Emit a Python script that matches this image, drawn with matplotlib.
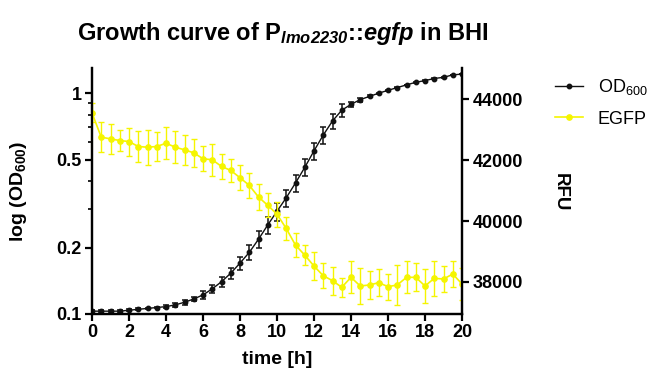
import matplotlib
matplotlib.use("Agg")
import matplotlib.pyplot as plt
import numpy as np
from matplotlib.lines import Line2D
from matplotlib.ticker import LogLocator, FixedLocator, NullFormatter

plt.rcParams["font.family"] = ["Liberation Sans", "DejaVu Sans"]
plt.rcParams["mathtext.fontset"] = "custom"
plt.rcParams["mathtext.rm"] = "Liberation Sans"
plt.rcParams["mathtext.it"] = "Liberation Sans:italic:bold"
plt.rcParams["mathtext.sf"] = "Liberation Sans:italic:bold"
plt.rcParams["mathtext.bf"] = "Liberation Sans:bold"

time_h = np.arange(0, 20.5, 0.5)

od600 = [0.103, 0.103, 0.103, 0.103, 0.104, 0.105, 0.106, 0.107, 0.108, 0.110,
         0.113, 0.117, 0.122, 0.130, 0.140, 0.153, 0.170, 0.190, 0.218, 0.253,
         0.292, 0.336, 0.392, 0.461, 0.548, 0.646, 0.748, 0.837, 0.890, 0.935,
         0.967, 1.000, 1.030, 1.060, 1.090, 1.120, 1.140, 1.165, 1.180, 1.210,
         1.220]
od600_sd = [0.001, 0.001, 0.001, 0.001, 0.001, 0.001, 0.001, 0.001, 0.002, 0.002,
            0.003, 0.003, 0.005, 0.006, 0.007, 0.009, 0.012, 0.015, 0.020, 0.023,
            0.027, 0.030, 0.035, 0.040, 0.048, 0.055, 0.060, 0.060, 0.025, 0.020,
            0.010, 0.005, 0.005, 0.004, 0.004, 0.004, 0.004, 0.004, 0.004, 0.004,
            0.004]

egfp = [43546, 42750, 42696, 42640, 42608, 42444, 42422, 42444, 42552, 42422,
        42336, 42238, 42042, 42010, 41791, 41660, 41421, 41170, 40788, 40516,
        40222, 39755, 39209, 38882, 38523, 38206, 38043, 37826, 38153, 37869,
        37902, 37978, 37847, 37902, 38153, 38153, 37869, 38120, 38098, 38261,
        37935]
egfp_sd = [310, 490, 490, 330, 460, 520, 570, 490, 520, 520,
           490, 460, 410, 520, 410, 390, 410, 410, 440, 390,
           410, 390, 390, 330, 460, 410, 460, 310, 520, 600,
           470, 450, 425, 670, 520, 460, 555, 570, 440, 430,
           520]

x_ticks = [0, 2, 4, 6, 8, 10, 12, 14, 16, 18, 20]
od_ticks = [0.1, 0.2, 0.5, 1]
od_tick_labels = ["0.1", "0.2", "0.5", "1"]
rfu_ticks = [38000, 40000, 42000, 44000]

black = "#111111"
yellow = "#f5f500"

fig = plt.figure(figsize=(6.52, 3.68), dpi=100)
ax = fig.add_axes([92 / 652, 1 - 314 / 368, 370 / 652, 246 / 368])
ax2 = ax.twinx()

ax.errorbar(time_h, od600, yerr=od600_sd, color=black, marker="o", ms=3.2,
            lw=1.0, elinewidth=1.1, capsize=2.2, capthick=1.1)
ax2.errorbar(time_h, egfp, yerr=egfp_sd, color=yellow, marker="o", ms=3.8,
             lw=1.2, elinewidth=1.0, capsize=2.2, capthick=1.0)

ax.set_yscale("log")
ax.set_xlim(0, 20)
ax.set_ylim(0.1, 1.3)
ax2.set_ylim(36950, 45020)

ax.xaxis.set_major_locator(FixedLocator(x_ticks))
ax.set_yticks(od_ticks)
ax.set_yticklabels(od_tick_labels)
ax.yaxis.set_minor_locator(LogLocator(base=10, subs=np.arange(2, 10) * 1.0))
ax.yaxis.set_minor_formatter(NullFormatter())
ax2.set_yticks(rfu_ticks)

for a in (ax, ax2):
    a.spines["top"].set_visible(False)
    for s in a.spines.values():
        s.set_linewidth(1.6)
    a.tick_params(which="major", direction="out", length=5, width=1.6,
                  labelsize=13, pad=2.5)
    a.tick_params(which="minor", direction="out", length=3, width=1.2)
    for lab in a.get_xticklabels() + a.get_yticklabels():
        lab.set_fontweight("bold")

fig.text(277 / 652, 1 - 360 / 368, "time [h]", ha="center", va="center",
         fontsize=14, fontweight="bold")
fig.text(19 / 652, 1 - 191 / 368, r"log (OD$_{\mathbf{600}}$)", ha="center",
         va="center", rotation=90, fontsize=14, fontweight="bold")
fig.text(560 / 652, 1 - 192 / 368, "RFU", ha="center", va="center",
         rotation=270, fontsize=13.5, fontweight="bold")

fig.text(283 / 652, 1 - 40 / 368,
         r"Growth curve of P$_{\mathsf{lmo2230}}$::$\mathit{egfp}$ in BHI",
         ha="center", va="baseline", fontsize=17, fontweight="bold")

handles = [
    Line2D([], [], color=black, marker="o", ms=3.2, lw=1.0),
    Line2D([], [], color=yellow, marker="o", ms=3.8, lw=1.2),
]
fig.legend(handles, [r"OD$_{600}$", "EGFP"], loc="upper left",
           bbox_to_anchor=(548 / 652, 1 - 70 / 368), frameon=False,
           fontsize=13, handlelength=1.55, handletextpad=0.8,
           labelspacing=0.75, borderaxespad=0)

fig.savefig("out.png", dpi=100)
